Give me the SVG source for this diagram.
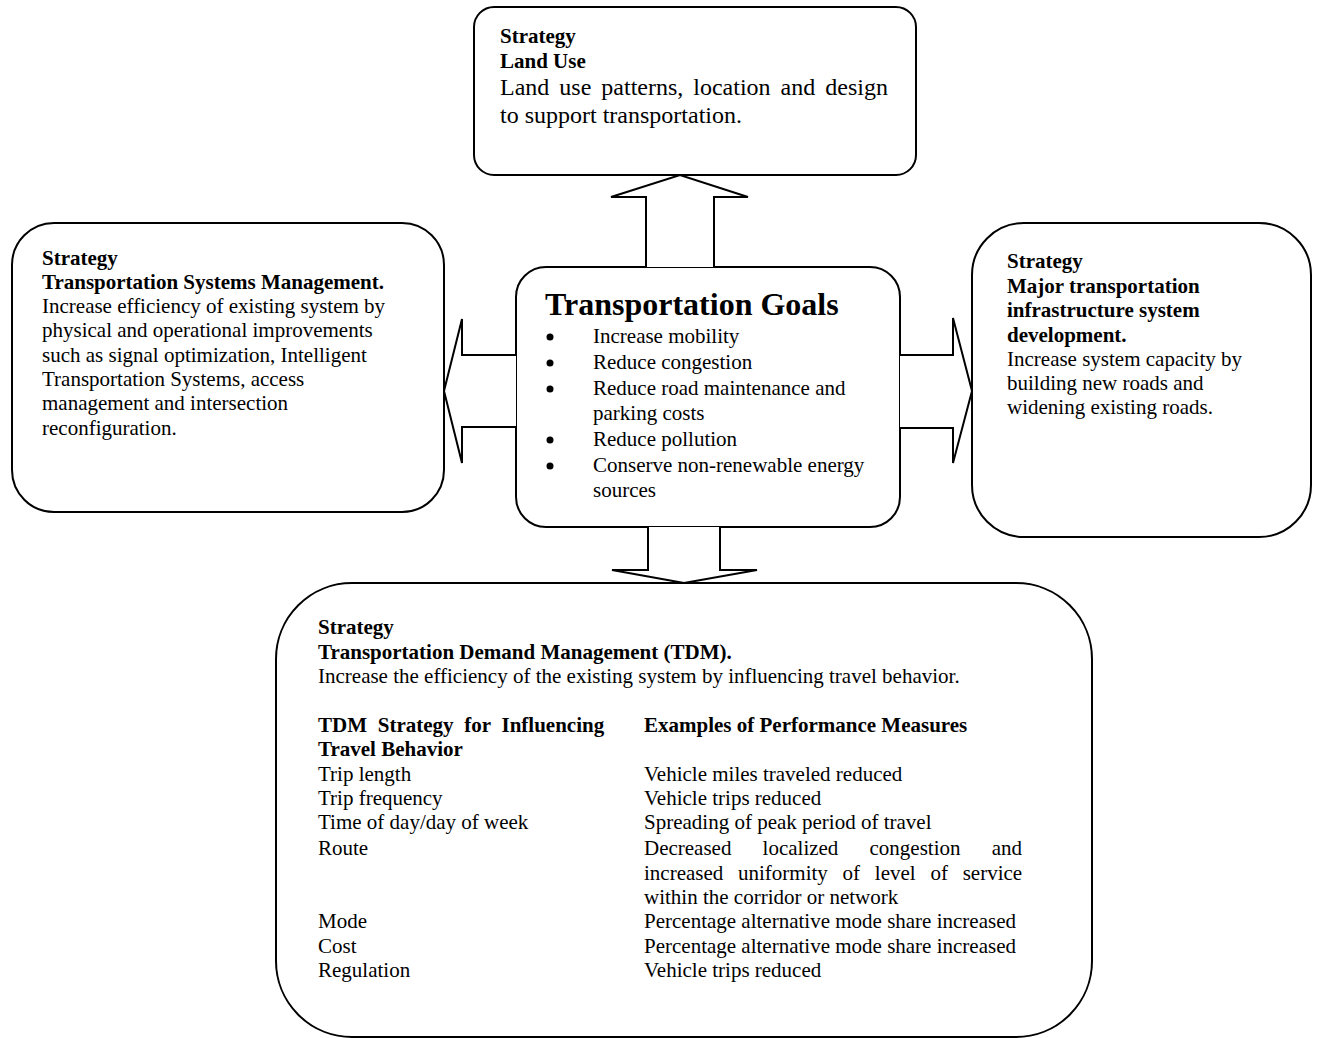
<svg xmlns="http://www.w3.org/2000/svg" width="1318" height="1038" viewBox="0 0 1318 1038">
<style>
  .box { fill: #ffffff; stroke: #000000; stroke-width: 2; }
  .arr { fill: #ffffff; stroke: #000000; stroke-width: 2; stroke-linejoin: miter; }
  text { font-family: "Liberation Serif", "Times New Roman", serif; font-size: 21px; fill: #000000; }
  .b { font-weight: bold; }
  .lg { font-size: 24px; }
  .title { font-size: 32px; font-weight: bold; }
</style>
<rect width="1318" height="1038" fill="#ffffff"/>

<g id="land-use">
  <rect class="box" x="474" y="7" width="442" height="168" rx="20" ry="20"/>
  <text class="b" x="500" y="43">Strategy</text>
  <text class="b" x="500" y="68">Land Use</text>
  <text class="lg" x="500" y="95" word-spacing="4">Land use patterns, location and design</text>
  <text class="lg" x="500" y="123">to support transportation.</text>
</g>

<g id="tsm">
  <rect class="box" x="12" y="223" width="432" height="289" rx="42" ry="42"/>
  <text class="b" x="42" y="265">Strategy</text>
  <text class="b" x="42" y="289">Transportation Systems Management.</text>
  <text x="42" y="313">Increase efficiency of existing system by</text>
  <text x="42" y="337">physical and operational improvements</text>
  <text x="42" y="362">such as signal optimization, Intelligent</text>
  <text x="42" y="386">Transportation Systems, access</text>
  <text x="42" y="410">management and intersection</text>
  <text x="42" y="435">reconfiguration.</text>
</g>

<g id="goals">
  <rect class="box" x="516" y="267" width="384" height="260" rx="30" ry="30"/>
  <text class="title" x="545" y="315">Transportation Goals</text>
  <g fill="#000000">
    <circle cx="550" cy="337" r="3.5"/>
    <circle cx="550" cy="363" r="3.5"/>
    <circle cx="550" cy="389" r="3.5"/>
    <circle cx="550" cy="440" r="3.5"/>
    <circle cx="550" cy="466" r="3.5"/>
  </g>
  <text x="593" y="343">Increase mobility</text>
  <text x="593" y="369">Reduce congestion</text>
  <text x="593" y="395">Reduce road maintenance and</text>
  <text x="593" y="420">parking costs</text>
  <text x="593" y="446">Reduce pollution</text>
  <text x="593" y="472">Conserve non-renewable energy</text>
  <text x="593" y="497">sources</text>
</g>

<g id="infrastructure">
  <rect class="box" x="972" y="223" width="339" height="314" rx="52" ry="52"/>
  <text class="b" x="1007" y="268">Strategy</text>
  <text class="b" x="1007" y="293">Major transportation</text>
  <text class="b" x="1007" y="317">infrastructure system</text>
  <text class="b" x="1007" y="342">development.</text>
  <text x="1007" y="366">Increase system capacity by</text>
  <text x="1007" y="390">building new roads and</text>
  <text x="1007" y="414">widening existing roads.</text>
</g>

<g id="tdm">
  <rect class="box" x="276" y="583" width="816" height="454" rx="76" ry="76"/>
  <text class="b" x="318" y="634">Strategy</text>
  <text class="b" x="318" y="659">Transportation Demand Management (TDM).</text>
  <text x="318" y="683">Increase the efficiency of the existing system by influencing travel behavior.</text>
  <text class="b" x="318" y="732" word-spacing="5.5">TDM Strategy for Influencing</text>
  <text class="b" x="318" y="756">Travel Behavior</text>
  <text class="b" x="644" y="732">Examples of Performance Measures</text>
  <text x="318" y="781">Trip length</text>
  <text x="318" y="805">Trip frequency</text>
  <text x="318" y="829">Time of day/day of week</text>
  <text x="318" y="855">Route</text>
  <text x="318" y="928">Mode</text>
  <text x="318" y="953">Cost</text>
  <text x="318" y="977">Regulation</text>
  <text x="644" y="781">Vehicle miles traveled reduced</text>
  <text x="644" y="805">Vehicle trips reduced</text>
  <text x="644" y="829">Spreading of peak period of travel</text>
  <text x="644" y="855" word-spacing="25.9">Decreased localized congestion and</text>
  <text x="644" y="880" word-spacing="9.5">increased uniformity of level of service</text>
  <text x="644" y="904">within the corridor or network</text>
  <text x="644" y="928">Percentage alternative mode share increased</text>
  <text x="644" y="953">Percentage alternative mode share increased</text>
  <text x="644" y="977">Vehicle trips reduced</text>
</g>

<g id="connectors">
  <polyline class="arr" points="646,267 646,197 611,197 680,175 748,197 714,197 714,267"/>
  <polyline class="arr" points="516,355 462,355 462,319 444,391 462,463 462,427 516,427"/>
  <polyline class="arr" points="900,355 953,355 953,318 972,391 953,463 953,428 900,428"/>
  <polyline class="arr" points="648,527 648,570 612,570 684,583 757,570 720,570 720,527"/>
</g>
</svg>
